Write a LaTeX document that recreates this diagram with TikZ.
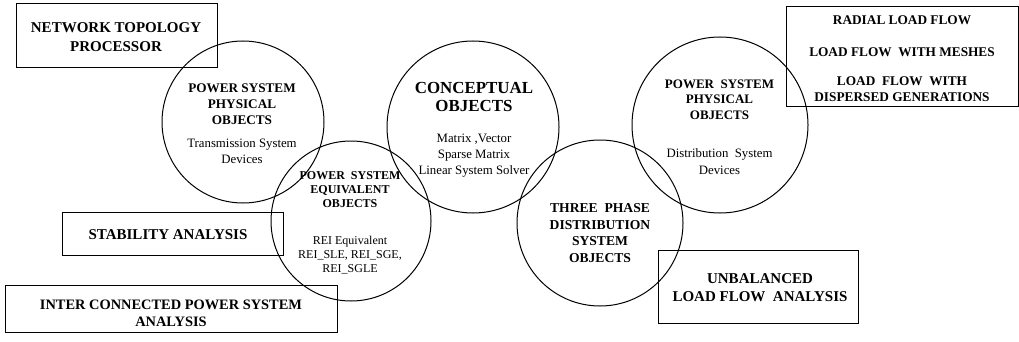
\documentclass[tikz,border=0pt]{standalone}
\usepackage{fontspec}
\setmainfont{Liberation Serif}
\newfontfamily\tnr{Liberation Serif}
\newcommand{\mybf}[2]{\tnr\fontsize{#1}{#2}\selectfont\bfseries}
\newcommand{\myrm}[2]{\tnr\fontsize{#1}{#2}\selectfont}
\tikzset{
  ring/.style={draw, circle, inner sep=0pt, minimum size=#1},
  frame/.style={draw, rectangle, inner sep=0pt},
  lbl/.style={align=center, inner sep=0pt},
}
\begin{document}
\begin{tikzpicture}[x=1pt, y=-1pt, line width=1pt]
\useasboundingbox (0,0) rectangle (1019,342);

% boxes
\node[frame, minimum width=201pt, minimum height=64pt] (ntp) at (116.5,36) {};
\node[frame, minimum width=221pt, minimum height=43pt] (stab) at (172.5,233.5) {};
\node[frame, minimum width=332pt, minimum height=47pt] (icps) at (171,308.5) {};
\node[frame, minimum width=232pt, minimum height=100pt] (rlf) at (902,57) {};
\node[frame, minimum width=200pt, minimum height=73pt] (unb) at (758,286.5) {};

% circles
\node[ring=162pt] (pl) at (243,122) {};
\node[ring=160pt] (eq) at (351,221) {};
\node[ring=172pt] (co) at (473,127) {};
\node[ring=166pt] (tp) at (600,223) {};
\node[ring=176pt] (pr) at (720,125) {};

% box texts
\node[lbl, font=\mybf{15}{19}] (ntpT) at (116,37.5) {NETWORK TOPOLOGY\\PROCESSOR};
\node[lbl, font=\mybf{15}{18}] (stabT) at (168,235) {STABILITY ANALYSIS};
\node[lbl, font=\mybf{14.4}{17}] (icpsT) at (171,313.5) {INTER CONNECTED POWER SYSTEM\\ANALYSIS};
\node[lbl, font=\mybf{13.3}{16}] (rlf1) at (902,20) {RADIAL LOAD FLOW};
\node[lbl, font=\mybf{13.3}{16}] (rlf2) at (902,52) {LOAD FLOW\ \ WITH MESHES};
\node[lbl, font=\mybf{13.3}{16}] (rlf3) at (902,89) {LOAD\ \ FLOW\ \ WITH\\DISPERSED GENERATIONS};
\node[lbl, font=\mybf{15}{18}] (unbT) at (760,288) {UNBALANCED\\LOAD FLOW\ \ ANALYSIS};

% circle texts
\node[lbl, font=\mybf{13.2}{16}] (plH) at (242,104) {POWER SYSTEM\\PHYSICAL\\OBJECTS};
\node[lbl, font=\myrm{12.8}{16}] (plS) at (242,151) {Transmission System\\Devices};

\node[lbl, font=\mybf{12}{14}] (eqH) at (350,190) {POWER\ \ SYSTEM\\EQUIVALENT\\OBJECTS};
\node[lbl, font=\myrm{12}{14}] (eqS) at (350,255) {REI Equivalent\\REI\_SLE, REI\_SGE,\\REI\_SGLE};

\node[lbl, font=\mybf{16.9}{18}] (coH) at (474,97) {CONCEPTUAL\\OBJECTS};
\node[lbl, font=\myrm{12.8}{16}] (coS) at (474,156) {Matrix ,Vector\\Sparse Matrix\\Linear System Solver};

\node[lbl, font=\mybf{13.6}{16.7}] (tpH) at (600,233) {THREE\ \ PHASE\\DISTRIBUTION\\SYSTEM\\OBJECTS};

\node[lbl, font=\mybf{13}{15.5}] (prH) at (719.5,99.5) {POWER\ \ SYSTEM\\PHYSICAL\\OBJECTS};
\node[lbl, font=\myrm{12.8}{17}] (prS) at (719.5,161.5) {Distribution\ \ System\\Devices};
\end{tikzpicture}
\end{document}
